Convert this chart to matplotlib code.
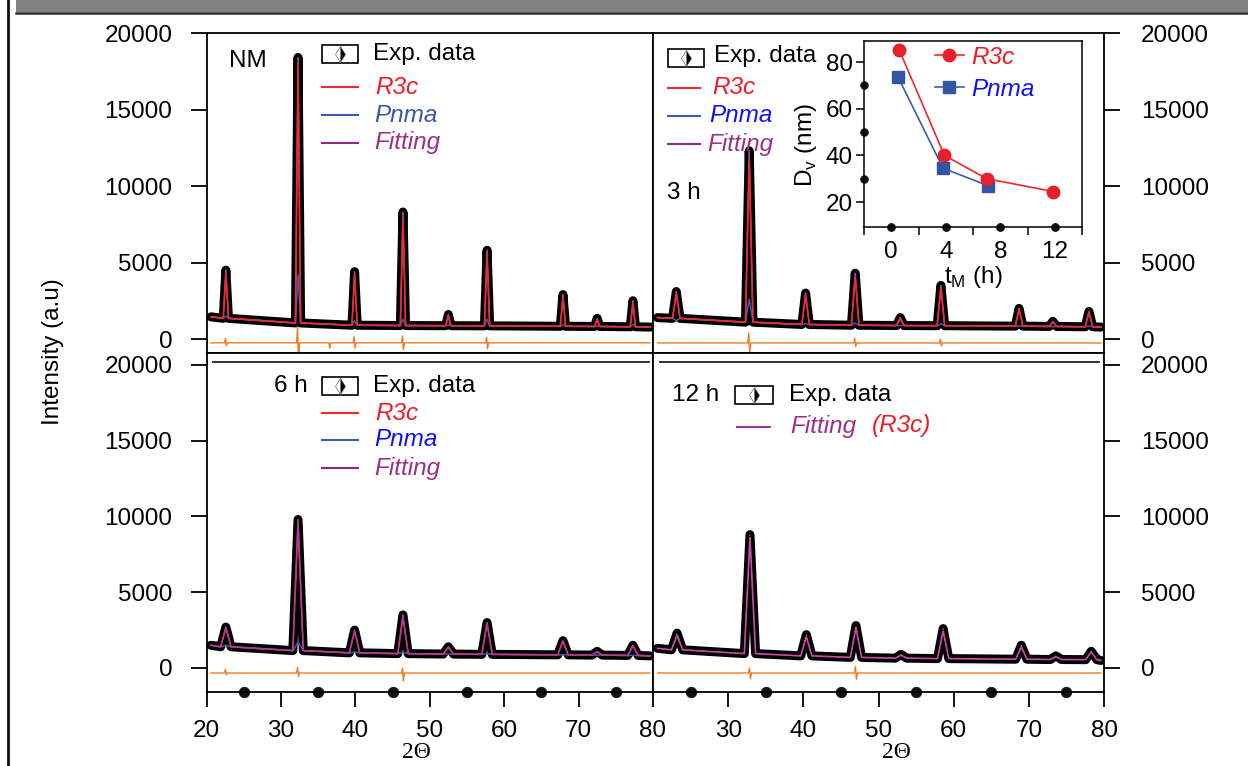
import matplotlib
matplotlib.use("Agg")
import matplotlib.pyplot as plt
from matplotlib.patches import Rectangle
from matplotlib.lines import Line2D

plt.rcParams['font.family'] = ['Liberation Sans', 'DejaVu Sans']
plt.rcParams['font.size'] = 17.5

# --- Peak data (2theta, intensity)
# NM
nm_pos = [22.6, 32.3, 39.9, 46.4, 52.5, 57.7, 67.9, 72.5, 77.3]
nm_obs = [4500, 18400, 4400, 8300, 1600, 5800, 2900, 1350, 2500]
nm_r3c = [4200, 17800, 4100, 7900, 1450, 5500, 2700, 1250, 2300]
nm_pnma = [1500, 4200, 1200, 1300, 900, 1300, 900, 830, 950]
nm_bg = [1350, 1050, 900, 880, 870, 860, 830, 820, 800]
nm_ends = [1450, 780]
nm_diff_base = -250
nm_diff_pos = [22.6, 32.3, 36.5, 39.9, 46.4, 57.7]
nm_diff_hi = [50, 800, -250, 150, 200, 100]
nm_diff_lo = [-450, -1600, -600, -600, -700, -650]

# 3 h
h3_pos = [23.1, 32.8, 40.3, 46.9, 52.9, 58.3, 68.7, 73.2, 78.0]
h3_obs = [3100, 12300, 3000, 4300, 1400, 3500, 2000, 1150, 1800]
h3_r3c = [2900, 11600, 2800, 4000, 1300, 3300, 1900, 1100, 1700]
h3_pnma = [1200, 2600, 1000, 1050, 880, 1000, 850, 800, 850]
h3_bg = [1350, 1100, 950, 900, 880, 870, 840, 820, 800]
h3_ends = [1400, 780]
h3_diff_base = -260
h3_diff_pos = [32.8, 46.9, 58.3]
h3_diff_hi = [400, 50, 0]
h3_diff_lo = [-900, -500, -450]

# 6 h
h6_pos = [22.6, 32.3, 39.9, 46.4, 52.5, 57.7, 67.9, 72.5, 77.3]
h6_obs = [2700, 9800, 2500, 3500, 1400, 3000, 1800, 1100, 1500]
h6_r3c = [2600, 9500, 2400, 3300, 1350, 2900, 1750, 1050, 1450]
h6_pnma = [1500, 1700, 1050, 1050, 920, 950, 870, 850, 830]
h6_bg = [1400, 1150, 1000, 950, 920, 900, 870, 850, 830]
h6_ends = [1500, 800]
h6_diff_base = -330
h6_diff_pos = [22.6, 32.3, 46.4]
h6_diff_hi = [-100, 50, 0]
h6_diff_lo = [-450, -550, -850]

# 12 h
h12_pos = [23.2, 32.9, 40.4, 47.0, 53.0, 58.6, 69.0, 73.6, 78.3]
h12_obs = [2300, 8800, 2200, 2800, 900, 2600, 1500, 800, 1100]
h12_fit = [2150, 8600, 2050, 2650, 850, 2450, 1400, 750, 1050]
h12_bg = [1200, 950, 800, 700, 650, 620, 580, 560, 550]
h12_ends = [1300, 500]
h12_diff_base = -330
h12_diff_pos = [32.9, 47.0]
h12_diff_hi = [0, 100]
h12_diff_lo = [-700, -750]

# Bragg markers on the bottom axis
bragg_pos = [25, 35, 45, 55, 65, 75]

# --- Inset: crystallite size vs milling time
ins_r3c_t = [0.6, 3.9, 7.0, 11.9]
ins_r3c_d = [85, 40, 30, 24.5]
ins_pnma_t = [0.5, 3.8, 7.1]
ins_pnma_d = [73.5, 34.5, 27]

# --- Colours
C_R3C = '#ee2a30'
C_PNMA = '#3c5cb0'
C_FIT = '#a83c98'
C_DIFF = '#f47a20'
T_R3C = '#ee1c24'
T_BLUE = '#1010ff'
T_FIT = '#9b2f8a'

W, H = 1248, 766


def rect(l, t, r, b):
    return [l / W, 1 - b / H, (r - l) / W, (b - t) / H]


def profile(pos, tops, bg, ends, hw):
    x = [20.6]
    y = [ends[0]]
    for p, t, b in zip(pos, tops, bg):
        x += [p - hw, p, p + hw]
        y += [b, t, b]
    x.append(79.6)
    y.append(ends[1])
    return x, y


def diff_curve(base, pos, hi, lo):
    x = [20.6]
    y = [base]
    for p, a, b in zip(pos, hi, lo):
        x += [p - 0.2, p - 0.06, p + 0.06, p + 0.2]
        y += [base, a, b, base]
    x.append(79.6)
    y.append(base)
    return x, y


fig = plt.figure(figsize=(W / 100, H / 100), dpi=100)

# page decorations (grey header bar + left rule)
fig.patches.append(Rectangle((16 / W, 1 - 12 / H), 1, 12 / H, transform=fig.transFigure,
                             facecolor='#828282', edgecolor='none'))
fig.lines.append(Line2D([16 / W, 1], [1 - 13 / H, 1 - 13 / H], transform=fig.transFigure,
                        color='#2a2a2a', lw=1.8))
fig.lines.append(Line2D([8 / W, 8 / W], [0, 1], transform=fig.transFigure, color='#111111', lw=2))

ax_tl = fig.add_axes(rect(206.5, 33, 653, 353))
ax_tr = fig.add_axes(rect(653, 33, 1104, 353))
ax_bl = fig.add_axes(rect(206.5, 353, 653, 692))
ax_br = fig.add_axes(rect(653, 353, 1104, 692))

panels = [
    (ax_tl, nm_pos, nm_obs, nm_r3c, nm_pnma, nm_bg, nm_ends,
     (nm_diff_base, nm_diff_pos, nm_diff_hi, nm_diff_lo), 0.35, True),
    (ax_tr, h3_pos, h3_obs, h3_r3c, h3_pnma, h3_bg, h3_ends,
     (h3_diff_base, h3_diff_pos, h3_diff_hi, h3_diff_lo), 0.5, True),
    (ax_bl, h6_pos, h6_obs, h6_r3c, h6_pnma, h6_bg, h6_ends,
     (h6_diff_base, h6_diff_pos, h6_diff_hi, h6_diff_lo), 0.7, False),
    (ax_br, h12_pos, h12_obs, None, None, h12_bg, h12_ends,
     (h12_diff_base, h12_diff_pos, h12_diff_hi, h12_diff_lo), 0.75, False),
]

for ax, pos, obs, r3c, pnma, bg, ends, diff, hw, red_top in panels:
    x, y = profile(pos, obs, bg, ends, hw)
    ax.plot(x, y, color='black', lw=6.5, solid_joinstyle='round', solid_capstyle='round', zorder=2)
    ax.plot(x, y, color='#c8c8c8', lw=0.6, dashes=(1.5, 3), zorder=2.1)
    if pnma is not None:
        xp, yp = profile(pos, pnma, bg, ends, hw)
        ax.plot(xp, yp, color=C_PNMA, lw=1.1, zorder=3)
        xr, yr = profile(pos, r3c, bg, ends, hw)
        ax.plot(xr, yr, color=C_R3C, lw=1.1, zorder=5 if red_top else 3.5)
        ax.plot(x, y, color=C_FIT, lw=1.1, zorder=4)
    else:
        xf, yf = profile(pos, h12_fit, bg, ends, hw)
        ax.plot(xf, yf, color='#c64aa6', lw=1.2, zorder=4)
    dx, dy = diff_curve(*diff)
    ax.plot(dx, dy, color=C_DIFF, lw=1.0, zorder=3)
    ax.set_xlim(20, 80)
    for s in ax.spines.values():
        s.set_linewidth(1.3)

for ax in (ax_tl, ax_tr):
    ax.set_ylim(-915, 20000)
    ax.set_xticks([])
for ax, ticks, xlab in ((ax_bl, [20, 30, 40, 50, 60, 70, 80], 416),
                        (ax_br, [30, 40, 50, 60, 70, 80], 896)):
    ax.set_ylim(-1584, 20790)
    ax.set_xticks(ticks)
    ax.set_xticks(bragg_pos, minor=True)
    ax.tick_params(axis='x', which='major', direction='out', length=11, width=1.3, pad=9)
    ax.tick_params(axis='x', which='minor', length=0)
    for t in ax.xaxis.get_minor_ticks():
        t.tick1line.set_marker('o')
        t.tick1line.set_markersize(7.5)
        t.tick1line.set_markerfacecolor('#111111')
        t.tick1line.set_markeredgecolor('#111111')
    ax.axhline(20200, xmin=0.015, xmax=0.99, color='#222222', lw=1.3)
    fig.text(xlab / W, 1 - 752 / H, '2Θ',
             family=['Liberation Serif', 'DejaVu Serif'], fontsize=17, ha='center', va='center')

yticks = [0, 5000, 10000, 15000, 20000]
for ax in (ax_tl, ax_bl):
    ax.set_yticks(yticks)
    ax.tick_params(axis='y', direction='out', length=11.5, width=1.3, pad=13)
for ax in (ax_tr, ax_br):
    ax.set_yticks(yticks)
    ax.tick_params(axis='y', left=False, labelleft=False, right=True, labelright=True,
                   direction='out', length=11.5, width=1.3, pad=15)

fig.text(53 / W, 1 - 352 / H, 'Intensity (a.u)', rotation=90, ha='center', va='center')


# --- hand-drawn legends (pixel positions)
def legend_box(x, y, w=36):
    fig.patches.append(Rectangle((x / W, 1 - (y + 9) / H), w / W, 18 / H, transform=fig.transFigure,
                                 facecolor='white', edgecolor='black', lw=1.2, zorder=10))
    fig.lines.append(Line2D([(x + w / 2) / W], [1 - y / H], transform=fig.transFigure,
                            marker='d', markersize=8, fillstyle='right', color='black',
                            markerfacecoloralt='white', markeredgecolor='#666666',
                            markeredgewidth=0.5, zorder=11))


def legend_line(x, y, color, w=36):
    fig.lines.append(Line2D([x / W, (x + w) / W], [1 - y / H, 1 - y / H],
                            transform=fig.transFigure, color=color, lw=1.5, zorder=10))


def ftext(x, y, s, **kw):
    fig.text(x / W, 1 - y / H, s, va='center', ha='left', zorder=12, **kw)


ftext(229, 61, 'NM')
legend_box(322, 54)
ftext(373, 54, 'Exp. data')
legend_line(322, 87, C_R3C)
ftext(375, 87, 'R3c', color=T_R3C, style='italic')
legend_line(322, 115, C_PNMA)
ftext(374, 115, 'Pnma', color='#3a56ac', style='italic')
legend_line(322, 143, '#8e2a7e')
ftext(374, 143, 'Fitting', color=T_FIT, style='italic')

legend_box(668, 58)
ftext(714, 56, 'Exp. data')
legend_line(668, 88, C_R3C, w=32)
ftext(712, 87, 'R3c', color=T_R3C, style='italic')
legend_line(668, 116, C_PNMA, w=32)
ftext(709, 116, 'Pnma', color=T_BLUE, style='italic')
legend_line(668, 144, '#8e2a7e', w=32)
ftext(707, 144, 'Fitting', color=T_FIT, style='italic')
ftext(667, 193, '3 h')

ftext(274, 386, '6 h')
legend_box(322, 386)
ftext(373, 386, 'Exp. data')
legend_line(322, 413, C_R3C)
ftext(375, 413, 'R3c', color=T_R3C, style='italic')
legend_line(322, 440, C_PNMA)
ftext(374, 440, 'Pnma', color=T_BLUE, style='italic')
legend_line(322, 468, '#8e2a7e')
ftext(374, 468, 'Fitting', color=T_FIT, style='italic')

ftext(672, 395, '12 h')
legend_box(735, 395, w=38)
ftext(789, 395, 'Exp. data')
legend_line(737, 427, '#a03a90', w=33)
ftext(790, 427, 'Fitting', color=T_FIT, style='italic')
ftext(872, 425, '(R3c)', color=T_R3C, style='italic')

# --- inset
ins = fig.add_axes(rect(864, 41, 1082, 227))
ins.plot(ins_r3c_t, ins_r3c_d, color=C_R3C, lw=1.2, marker='o', markersize=9,
         markerfacecolor='#e8202a', markeredgecolor='#e8202a', label='R3c', zorder=3)
ins.plot(ins_pnma_t, ins_pnma_d, color=C_PNMA, lw=1.2, marker='s', markersize=8,
         markerfacecolor='#3355a5', markeredgecolor='#3355a5', label='Pnma', zorder=2)
ins.set_xlim(-2, 14)
ins.set_ylim(9.3, 89)
ins.set_xticks([0, 4, 8, 12])
ins.set_xticks([-2, 2, 6, 10, 14], minor=True)
ins.set_yticks([20, 40, 60, 80])
ins.set_yticks([30, 50, 70], minor=True)
ins.tick_params(axis='x', which='major', length=0, pad=10)
ins.tick_params(axis='x', which='minor', direction='out', length=6, width=1.1)
ins.tick_params(axis='y', which='major', direction='out', length=6, width=1.1, pad=2)
ins.tick_params(axis='y', which='minor', length=0)
for t in ins.xaxis.get_major_ticks() + ins.yaxis.get_minor_ticks():
    t.tick1line.set_marker('o')
    t.tick1line.set_markersize(5.5)
    t.tick1line.set_markerfacecolor('#111111')
    t.tick1line.set_markeredgecolor('#111111')
for s in ins.spines.values():
    s.set_linewidth(1.1)
ins.set_xlabel('t$_\\mathregular{M}$ (h)', labelpad=1)
ins.set_ylabel('D$_\\mathregular{v}$ (nm)')
ins.yaxis.set_label_coords(-0.205, 0.44)
leg = ins.legend(loc='upper left', bbox_to_anchor=(0.325, 0.975), frameon=False, borderpad=0,
                 handlelength=1.2, handletextpad=0.3, labelspacing=0.38, borderaxespad=0)
for txt, col in zip(leg.get_texts(), [T_R3C, T_BLUE]):
    txt.set_color(col)
    txt.set_style('italic')

fig.savefig('out.png', dpi=100)
